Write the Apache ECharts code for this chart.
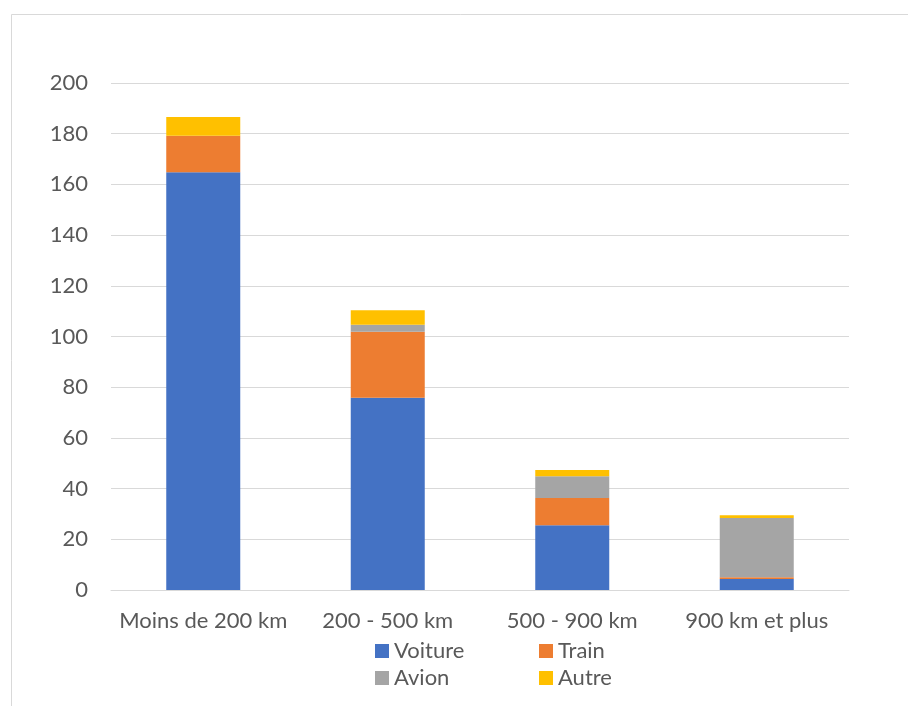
<!DOCTYPE html>
<html><head><meta charset="utf-8">
<script src="https://cdn.jsdelivr.net/npm/echarts@6/dist/echarts.min.js"></script>
<style>html,body{margin:0;padding:0;background:#fff}#c{width:908px;height:706px}</style>
</head><body><div id="c"></div>
<script>
const categories = ['Moins de 200 km', '200 - 500 km', '500 - 900 km', '900 km et plus'];
const voiture = [164.8, 75.8, 25.5, 4.3];
const train = [14.4, 26.1, 10.8, 0.7];
const avion = [0.0, 2.7, 8.6, 23.4];
const autre = [7.4, 5.8, 2.4, 1.1];
const yTicks = [0, 20, 40, 60, 80, 100, 120, 140, 160, 180, 200];

const FONT = 'Lato';
const TXT = '#595959';
const chart = echarts.init(document.getElementById('c'), null, {renderer: 'canvas'});
function leg(name, left, top) {
  return {data: [name], left: left, top: top, icon: 'rect', itemWidth: 14, itemHeight: 14,
    itemGap: 0, padding: 0, selectedMode: false,
    textStyle: {fontFamily: FONT, fontSize: 22, color: TXT}};
}
function bar(name, data, color) {
  return {name: name, type: 'bar', stack: 'total', data: data, barWidth: 74,
    itemStyle: {color: color}, emphasis: {disabled: true}};
}
chart.setOption({
  backgroundColor: '#fff',
  animation: false,
  textStyle: {fontFamily: FONT},
  graphic: [{type: 'rect', shape: {x: 11.5, y: 14.5, width: 1000, height: 1000},
    style: {fill: 'none', stroke: '#d9d9d9', lineWidth: 1}, silent: true}],
  grid: {left: 111, right: 59, top: 83, bottom: 116, containLabel: false},
  legend: [
    leg('Voiture', 375, 640),
    leg('Train', 539, 640),
    leg('Avion', 375, 667),
    leg('Autre', 539, 667)
  ],
  xAxis: {type: 'category', data: categories,
    axisLine: {lineStyle: {color: '#d9d9d9', width: 1}}, axisTick: {show: false},
    axisLabel: {color: TXT, fontSize: 22, fontFamily: FONT, margin: 20, interval: 0}},
  yAxis: {type: 'value', min: yTicks[0], max: yTicks[yTicks.length - 1], interval: 20,
    axisLine: {show: false}, axisTick: {show: false},
    splitLine: {lineStyle: {color: '#d9d9d9', width: 1}},
    axisLabel: {color: TXT, fontSize: 22, fontFamily: FONT, margin: 23}},
  series: [
    bar('Voiture', voiture, '#4472C4'),
    bar('Train', train, '#ED7D31'),
    bar('Avion', avion, '#A5A5A5'),
    bar('Autre', autre, '#FFC000')
  ]
});
</script></body></html>
